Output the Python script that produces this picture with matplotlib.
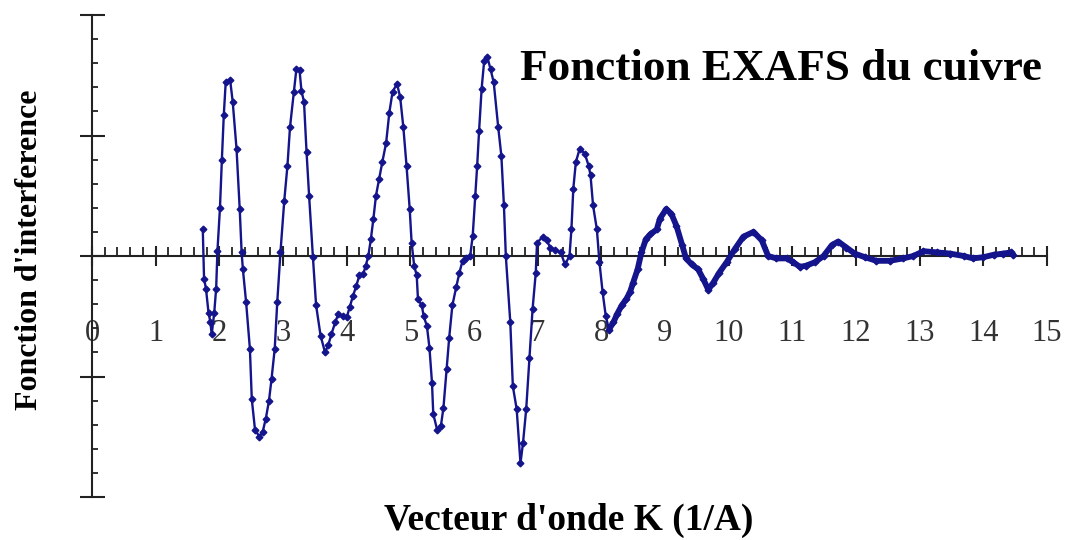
import numpy as np
import matplotlib.pyplot as plt
from matplotlib.ticker import MultipleLocator

# wave vector K (1/A) and EXAFS interference function
k_vals = [1.74, 1.76, 1.79, 1.83, 1.86, 1.88, 1.92, 1.95, 1.97, 2.01, 2.04, 2.07, 2.10, 2.17,
          2.21, 2.27, 2.32, 2.35, 2.37, 2.42, 2.48, 2.51, 2.56, 2.63, 2.68, 2.73, 2.78, 2.82,
          2.87, 2.91, 2.96, 3.02, 3.07, 3.11, 3.17, 3.21, 3.26, 3.29, 3.33, 3.37, 3.41, 3.47,
          3.52, 3.59, 3.66, 3.71, 3.76, 3.82, 3.87, 3.94, 4.00, 4.05, 4.10, 4.15, 4.20, 4.26,
          4.30, 4.34, 4.38, 4.42, 4.46, 4.51, 4.56, 4.62, 4.67, 4.72, 4.79, 4.84, 4.89, 4.94,
          4.99, 5.02, 5.06, 5.10, 5.12, 5.18, 5.21, 5.26, 5.30, 5.34, 5.36, 5.42, 5.48, 5.52,
          5.57, 5.61, 5.66, 5.72, 5.77, 5.82, 5.88, 5.94, 5.98, 6.02, 6.05, 6.08, 6.12, 6.16,
          6.21, 6.26, 6.31, 6.38, 6.43, 6.47, 6.50, 6.57, 6.61, 6.67, 6.73, 6.77, 6.82, 6.87,
          6.92, 6.97, 6.99, 7.08, 7.14, 7.20, 7.28, 7.36, 7.43, 7.50, 7.53, 7.56, 7.60, 7.66,
          7.74, 7.80, 7.83, 7.87, 7.93, 7.97, 8.02, 8.07, 8.12, 8.19, 8.25, 8.32, 8.39, 8.45,
          8.50, 8.57, 8.63, 8.70, 8.77, 8.87, 8.92, 9.02, 9.10, 9.18, 9.27, 9.33, 9.42, 9.52,
          9.60, 9.68, 9.76, 9.85, 9.97, 10.10, 10.23, 10.39, 10.52, 10.62, 10.75, 10.91, 11.01,
          11.12, 11.22, 11.36, 11.49, 11.62, 11.72, 11.85, 11.98, 12.14, 12.32, 12.53, 12.74,
          12.90, 13.06, 13.27, 13.48, 13.69, 13.84, 14.00, 14.16, 14.31, 14.44, 14.47]
chi_vals = [0.22, -0.19, -0.27, -0.47, -0.55, -0.65, -0.47, -0.27, 0.04, 0.40, 0.80, 1.17, 1.44,
            1.46, 1.28, 0.89, 0.39, 0.03, -0.11, -0.38, -0.77, -1.19, -1.44, -1.50, -1.46, -1.35,
            -1.20, -1.02, -0.77, -0.38, 0.03, 0.46, 0.75, 1.07, 1.36, 1.55, 1.54, 1.37, 1.28,
            0.86, 0.50, -0.01, -0.41, -0.66, -0.80, -0.74, -0.65, -0.55, -0.48, -0.50, -0.51,
            -0.42, -0.33, -0.25, -0.16, -0.15, -0.08, 0.00, 0.14, 0.31, 0.50, 0.64, 0.78, 0.94,
            1.19, 1.36, 1.43, 1.32, 1.07, 0.75, 0.39, 0.11, -0.08, -0.16, -0.36, -0.41, -0.50,
            -0.58, -0.76, -1.05, -1.31, -1.44, -1.41, -1.26, -0.94, -0.68, -0.41, -0.26, -0.14,
            -0.04, -0.02, 0.00, 0.17, 0.50, 0.75, 1.04, 1.39, 1.62, 1.65, 1.55, 1.44, 1.07, 0.83,
            0.42, 0.00, -0.55, -1.08, -1.27, -1.72, -1.55, -1.27, -0.85, -0.44, -0.14, 0.11, 0.16,
            0.13, 0.07, 0.05, 0.03, -0.07, 0.00, 0.22, 0.56, 0.78, 0.89, 0.85, 0.75, 0.67, 0.42,
            0.22, -0.05, -0.30, -0.50, -0.61, -0.55, -0.48, -0.41, -0.36, -0.30, -0.22, -0.11,
            0.03, 0.14, 0.18, 0.22, 0.31, 0.39, 0.35, 0.25, 0.09, -0.02, -0.07, -0.11, -0.19,
            -0.28, -0.22, -0.14, -0.05, 0.06, 0.16, 0.20, 0.13, 0.00, -0.02, -0.02, -0.05, -0.09,
            -0.08, -0.05, 0.00, 0.09, 0.12, 0.07, 0.02, -0.01, -0.04, -0.04, -0.02, 0.00, 0.04,
            0.03, 0.02, 0.00, -0.02, -0.01, 0.01, 0.02, 0.03, 0.01]

x_ticks = list(range(0, 16))
x_labels = [str(t) for t in x_ticks]

k = np.array(k_vals)
chi = np.array(chi_vals)
dense = k >= 8.1

plt.rcParams['font.family'] = ['Liberation Serif', 'DejaVu Serif']
color = '#14148c'

fig = plt.figure(figsize=(10.68, 5.4), dpi=100)
ax = fig.add_axes([92/1068, 1 - 497/540, (1047 - 92)/1068, (497 - 15)/540])

ax.plot(k, chi, color=color, lw=1.7, marker='D', ms=3.4, zorder=3)
# the tail of the record is densely sampled in the original, so it looks thicker
ax.plot(k[dense], chi[dense], color=color, lw=4.2, solid_capstyle='round', zorder=3)

ax.set_xlim(0, 15)
ax.set_ylim(-2, 2)
ax.spines['top'].set_visible(False)
ax.spines['right'].set_visible(False)
ax.spines['bottom'].set_position(('data', 0))
ax.spines['left'].set_position(('data', 0))
for s in ('bottom', 'left'):
    ax.spines[s].set_color('#222222')
    ax.spines[s].set_linewidth(1.5)

ax.set_xticks(x_ticks)
ax.set_xticklabels(x_labels)
ax.xaxis.set_minor_locator(MultipleLocator(0.2))
ax.yaxis.set_major_locator(MultipleLocator(1))
ax.yaxis.set_minor_locator(MultipleLocator(0.2))
ax.set_yticklabels([])

ax.tick_params(axis='x', which='major', direction='inout', length=15, width=1.5,
               color='#222222', labelsize=22, pad=38, labelcolor='#333333')
ax.tick_params(axis='x', which='minor', direction='in', length=6.5, width=1.3, color='#222222')
ax.tick_params(axis='y', which='major', direction='inout', length=18, width=1.5, color='#222222')
ax.tick_params(axis='y', which='minor', direction='in', length=4.5, width=1.3, color='#222222')

fig.text(520/1068, 1 - 80/540, "Fonction EXAFS du cuivre", fontsize=32.5, fontweight='bold',
         ha='left', va='baseline')
fig.text(30/1068, 1 - 250/540, "Fonction d'interference", fontsize=23, fontweight='bold',
         rotation=90, ha='center', va='center')
fig.text(569/1068, 1 - 520/540, "Vecteur d'onde K (1/A)", fontsize=27, fontweight='bold',
         ha='center', va='center')

fig.savefig("out.png", dpi=100)
